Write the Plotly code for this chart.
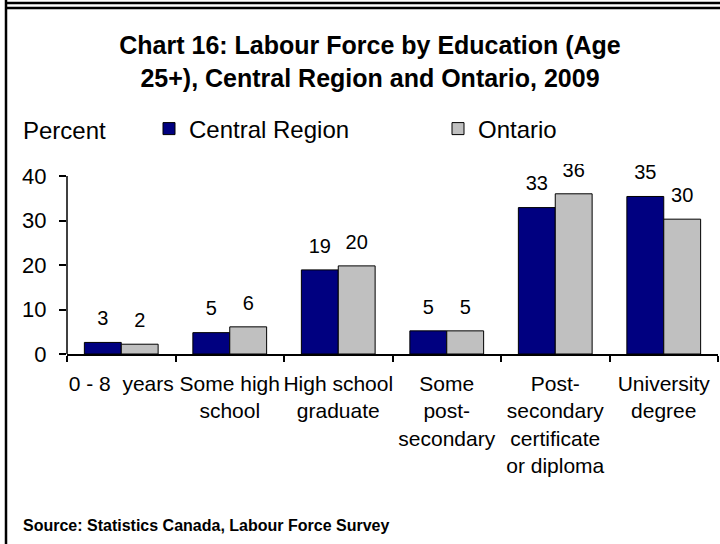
import plotly.graph_objects as go

# Labour force share by highest education level (age 25+), 2009
categories = [
    "0 - 8\u00a0 years",
    "Some high<br>school",
    "High school<br>graduate",
    "Some<br>post-<br>secondary",
    "Post-<br>secondary<br>certificate<br>or diploma",
    "University<br>degree",
]
central_region = [2.6, 4.8, 18.9, 5.2, 32.9, 35.4]
ontario = [2.2, 6.1, 19.8, 5.2, 36.0, 30.3]
y_ticks = [0, 10, 20, 30, 40]

FONT = "Liberation Sans, Arial, sans-serif"
W, H = 720, 544
ML, MR, MT, MB = 67, 2, 164, 190
PW, PH = W - ML - MR, H - MT - MB
Y_TOP = 40 * PH / (H - MB - 176)  # 40 sits at y=176 px


def px_x(px):
    return (px - ML) / PW


def px_y(py):
    return (H - MB - py) / PH


idx = list(range(len(categories)))
bar_w = 0.34

fig = go.Figure()
fig.add_trace(go.Bar(
    x=idx, y=central_region, name="Central Region", legend="legend",
    width=bar_w, offset=-bar_w,
    marker=dict(color="#000080", line=dict(color="black", width=1)),
))
fig.add_trace(go.Bar(
    x=idx, y=ontario, name="Ontario", legend="legend2",
    width=bar_w, offset=0,
    marker=dict(color="#C0C0C0", line=dict(color="black", width=1)),
))

# value labels above each bar (clipped by the plot area)
for vals, shift in ((central_region, -bar_w / 2), (ontario, bar_w / 2)):
    fig.add_trace(go.Scatter(
        x=[i + shift for i in idx], y=vals,
        mode="text+markers",
        marker=dict(size=18, color="rgba(0,0,0,0)"),
        texttemplate="%{y:.0f}", textposition="top center",
        textfont=dict(family=FONT, size=20, color="black"),
        cliponaxis=True, showlegend=False, hoverinfo="skip",
    ))

shapes = [
    # y axis line, 0 to 40 only
    dict(type="line", xref="paper", yref="y", x0=0, x1=0, y0=0, y1=40,
         line=dict(color="black", width=1.5)),
    # page frame
    dict(type="line", xref="paper", yref="paper",
         x0=px_x(6), x1=px_x(6), y0=px_y(0), y1=px_y(H),
         line=dict(color="black", width=2.5)),
    dict(type="line", xref="paper", yref="paper",
         x0=px_x(6), x1=px_x(W), y0=px_y(3), y1=px_y(3),
         line=dict(color="black", width=2.3)),
    dict(type="line", xref="paper", yref="paper",
         x0=px_x(6), x1=px_x(W), y0=px_y(8), y1=px_y(8),
         line=dict(color="black", width=2.3)),
]

annotations = [
    dict(text="Percent", xref="paper", yref="paper",
         x=px_x(21), y=px_y(130), xanchor="left", yanchor="middle",
         showarrow=False, font=dict(family=FONT, size=24, color="black")),
    dict(text="<b>Source: Statistics Canada, Labour Force Survey</b>",
         xref="paper", yref="paper", x=px_x(21), y=px_y(525),
         xanchor="left", yanchor="middle", showarrow=False,
         font=dict(family=FONT, size=16, color="black")),
]

legend_style = dict(
    orientation="h", xanchor="left", yanchor="middle",
    font=dict(family=FONT, size=24, color="black"),
    bgcolor="rgba(0,0,0,0)", borderwidth=0,
)

fig.update_layout(
    width=W, height=H,
    margin=dict(l=ML, r=MR, t=MT, b=MB, pad=0),
    paper_bgcolor="white", plot_bgcolor="white",
    barmode="overlay",
    font=dict(family=FONT, color="black"),
    title=dict(
        text="<b>Chart 16: Labour Force by Education (Age<br>25+), Central Region and Ontario, 2009</b>",
        x=370 / W, xanchor="center", xref="container",
        y=1 - 54 / H, yanchor="middle", yref="container",
        font=dict(family=FONT, size=25, color="black"),
    ),
    legend=dict(x=px_x(149), y=px_y(129), **legend_style),
    legend2=dict(x=px_x(438), y=px_y(129), **legend_style),
    xaxis=dict(
        range=[-0.5, len(categories) - 0.5],
        tickmode="array", tickvals=idx, ticktext=categories,
        ticks="", showgrid=False, zeroline=False,
        showline=True, linecolor="black", linewidth=1.5,
        tickfont=dict(family=FONT, size=21, color="black"),
        ticklabelstandoff=10,
        minor=dict(tickmode="array",
                   tickvals=[i - 0.5 for i in range(len(categories) + 1)],
                   ticks="outside", ticklen=6, tickcolor="black", tickwidth=1.5,
                   showgrid=False),
        fixedrange=True,
    ),
    yaxis=dict(
        range=[0, Y_TOP], tickmode="array", tickvals=y_ticks,
        ticks="outside", ticklen=7, tickcolor="black", tickwidth=1.5,
        showgrid=False, zeroline=False, showline=False,
        tickfont=dict(family=FONT, size=22, color="black"),
        ticklabelstandoff=8,
        fixedrange=True,
    ),
    shapes=shapes,
    annotations=annotations,
)

fig.write_html("out.html")
